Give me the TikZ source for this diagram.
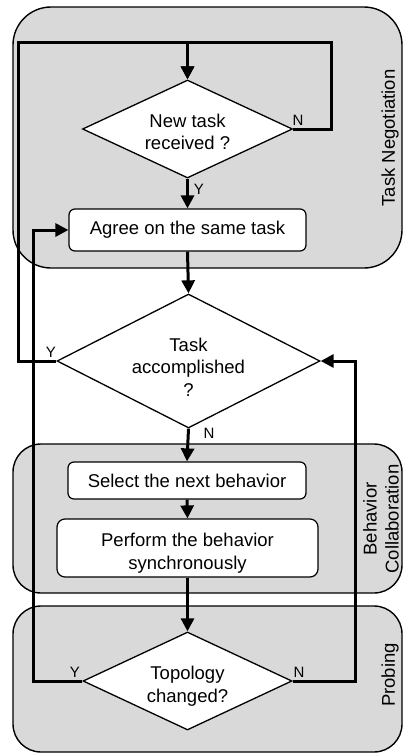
\documentclass[tikz,border=0pt]{standalone}
\usepackage{fontspec}
\setmainfont{Liberation Sans}
\usetikzlibrary{shapes.geometric,arrows.meta}
\definecolor{regiongray}{HTML}{D9D9D9}
\tikzset{
  region/.style={draw=black, line width=1.4pt, fill=regiongray},
  dec/.style={shape=diamond, draw=black, line width=1.3pt, fill=white, inner sep=0pt},
  dtext/.style={align=center, inner sep=0pt, font=\fontsize{18.5}{22.5}\selectfont},
  procbox/.style={draw=black, line width=1.2pt, fill=white, rounded corners=6pt, align=center, inner sep=0pt, font=\fontsize{18.5}{22.5}\selectfont},
  conn/.style={line width=3pt},
  arr/.style={conn, -{Triangle[length=13pt,width=13pt]}},
  yn/.style={font=\fontsize{15}{16}\selectfont, inner sep=0pt},
  side/.style={rotate=90, align=center, inner sep=0pt, font=\fontsize{18.5}{22}\selectfont}
}
\begin{document}
\begin{tikzpicture}[x=1pt,y=-1pt]
\useasboundingbox (0,0) rectangle (404,753);
% regions
\draw[region, rounded corners=38pt] (13,7) rectangle (402,268);
\draw[region, rounded corners=28pt] (13,444) rectangle (402,593);
\draw[region, rounded corners=28pt] (13,606) rectangle (402,752);
\node[side] (lblTN) at (390,138) {Task Negotiation};
\node[side] (lblBC) at (381,519) {Behavior\\Collaboration};
\node[side] (lblPR) at (390,675) {Probing};
% nodes
\node[dec, minimum width=210pt, minimum height=98pt] (d1) at (187.5,129) {};
\node[dtext] (d1t) at ([yshift=-3pt]d1.center) {New task\\received ?};
\node[procbox, minimum width=237pt, minimum height=42pt] (b1) at (187.5,230) {Agree on the same task};
\node[dec, minimum width=263pt, minimum height=134pt] (d2) at (188.5,361) {};
\node[dtext] (d2t) at ([yshift=-6pt]d2.center) {Task\\accomplished\\?};
\node[procbox, minimum width=238pt, minimum height=37pt] (b2) at (187,480.5) {Select the next behavior};
\node[procbox, minimum width=261pt, minimum height=58pt, rounded corners=8pt] (b3) at (187.5,548) {};
\node[dtext] (b3t) at ([yshift=-5pt]b3.center) {Perform the behavior\\synchronously};
\node[dec, minimum width=209pt, minimum height=98pt] (d3) at (187.5,681) {};
\node[dtext] (d3t) at ([yshift=-5pt]d3.center) {Topology\\changed?};
% helper coordinates
\coordinate (tl) at (18,42);
\coordinate (tr) at (331,42);
\coordinate (bl) at (33,230);
\coordinate (br) at (355,361);
% connectors
\draw[arr] (d2.west) -| (tl) -| (d1.north);
\draw[arr] (d1.east) -| (tr) -| (d1.north);
\draw[arr] (d1.south) -- (b1.north);
\draw[arr] (b1.south) -- (d2.north);
\draw[arr] (d2.south) -- (b2.north);
\draw[arr] (b2.south) -- (b3.north);
\draw[arr] (b3.south) -- (d3.north);
\draw[arr] (d3.west) -| (bl) -- (b1.west);
\draw[arr] (d3.east) -| (br) -- (d2.east);
% labels
\node[yn] (n1) at (298,120) {N};
\node[yn] (y1) at (199,189) {Y};
\node[yn] (y2) at (51,352) {Y};
\node[yn] (n2) at (209,433) {N};
\node[yn] (y3) at (75,672) {Y};
\node[yn] (n3) at (299,672) {N};
\end{tikzpicture}
\end{document}
